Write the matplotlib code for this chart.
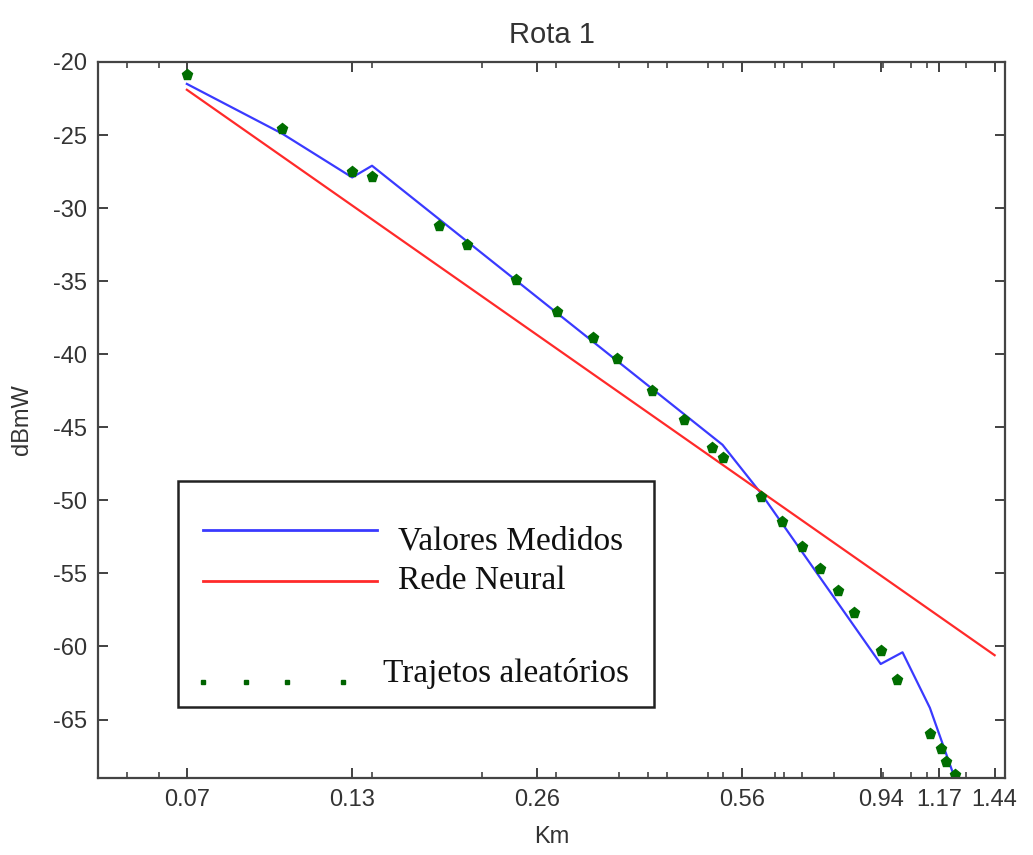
""" Rota 1 - potência recebida vs distância """
import numpy as np
import matplotlib
matplotlib.use("Agg")
import matplotlib.pyplot as plt
from matplotlib.patches import Rectangle

plt.rcParams["font.family"] = ["Liberation Sans", "DejaVu Sans"]
plt.rcParams["axes.unicode_minus"] = False

# valores medidos (linha azul)
km_medidos = [0.07, 0.10, 0.13, 0.14, 0.52, 0.60, 0.94, 1.02, 1.13, 1.24]
dbm_medidos = [-21.5, -24.9, -27.9, -27.1, -46.2, -49.5, -61.2, -60.4, -64.2, -69.0]

# rede neural (linha vermelha)
km_rede = [0.07, 1.44]
dbm_rede = [-21.9, -60.6]

# trajetos aleatórios (pontos verdes)
km_traj = [0.07, 0.10, 0.13, 0.14, 0.18, 0.20, 0.24, 0.28, 0.32, 0.35, 0.40,
           0.45, 0.50, 0.52, 0.60, 0.65, 0.70, 0.75, 0.80, 0.85, 0.94, 1.00,
           1.13, 1.18, 1.20, 1.24]
dbm_traj = [-20.9, -24.6, -27.5, -27.9, -31.2, -32.5, -34.9, -37.1, -38.9,
            -40.3, -42.5, -44.5, -46.4, -47.1, -49.8, -51.5, -53.2, -54.7,
            -56.2, -57.7, -60.3, -62.3, -66.0, -67.0, -67.9, -68.8]

xticks = [0.07, 0.13, 0.26, 0.56, 0.94, 1.17, 1.44]
xtick_labels = ["0.07", "0.13", "0.26", "0.56", "0.94", "1.17", "1.44"]
xminor = [0.056, 0.063, 0.14, 0.211, 0.279, 0.353, 0.393, 0.422, 0.492, 0.52,
          0.633, 0.654, 0.70, 0.79, 0.948, 1.053, 1.118, 1.293]
yticks = [-20, -25, -30, -35, -40, -45, -50, -55, -60, -65]

if __name__ == "__main__":
    fig = plt.figure(figsize=(10.33, 8.55), dpi=100)
    ax = fig.add_axes([0.0949, 0.0901, 0.878, 0.8374])

    ax.plot(km_medidos, dbm_medidos, color="#3a3aff", lw=1.6)
    ax.plot(km_rede, dbm_rede, color="#ff2a2a", lw=1.6)
    ax.plot(km_traj, dbm_traj, linestyle="none", marker="p", markersize=8,
            color="#006e00")

    ax.set_xscale("log")
    ax.set_xlim(0.0502, 1.497)
    ax.set_ylim(-69, -20)
    ax.set_xticks(xticks)
    ax.set_xticklabels(xtick_labels)
    ax.set_xticks(xminor, minor=True)
    ax.xaxis.set_minor_formatter(matplotlib.ticker.NullFormatter())
    ax.set_yticks(yticks)

    ax.tick_params(which="both", direction="in", top=True, right=True,
                   labelsize=17, colors="#333333", pad=8)
    ax.tick_params(which="major", length=7, width=1.3)
    ax.tick_params(which="minor", length=4, width=1.1)
    for sp in ax.spines.values():
        sp.set_color("#444444")
        sp.set_linewidth(1.6)

    ax.set_title("Rota 1", fontsize=21, color="#333333", pad=14)
    ax.set_xlabel("Km", fontsize=17, color="#333333", labelpad=11)
    ax.set_ylabel("dBmW", fontsize=17, color="#333333", labelpad=14)

    # legenda desenhada à mão, como no original
    ax.add_patch(Rectangle((0.0882, 0.0992), 0.613 - 0.0882, 0.4148 - 0.0992,
                           transform=ax.transAxes, fill=False,
                           edgecolor="#222222", lw=1.8, zorder=5))
    ax.plot([0.1158, 0.3076], [0.3464, 0.3464], transform=ax.transAxes,
            color="#3a3aff", lw=2)
    ax.plot([0.1158, 0.3076], [0.2751, 0.2751], transform=ax.transAxes,
            color="#ff2a2a", lw=2)
    ax.plot([0.1158, 0.163, 0.208, 0.270], [0.134] * 4, transform=ax.transAxes,
            linestyle="none", marker="s", markersize=3.5, color="#006400")
    serif = dict(family="Liberation Serif", fontsize=24, color="#111111",
                 transform=ax.transAxes, va="center", ha="left")
    ax.text(0.3308, 0.330, "Valores Medidos", **serif)
    ax.text(0.3308, 0.276, "Rede Neural", **serif)
    ax.text(0.314, 0.146, "Trajetos aleatórios", **serif)

    fig.savefig("out.png", dpi=100)
